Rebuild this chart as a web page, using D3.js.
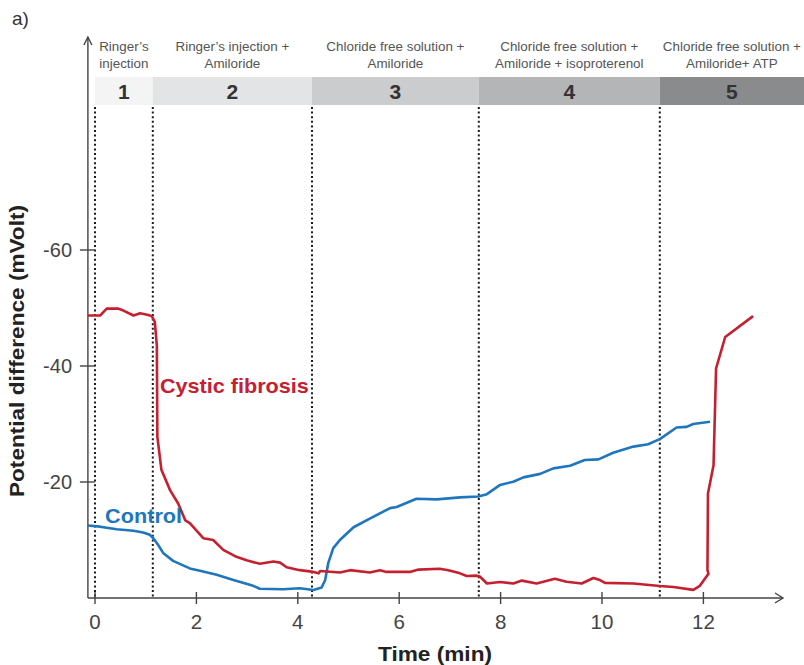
<!DOCTYPE html>
<html><head><meta charset="utf-8">
<script src="https://cdn.jsdelivr.net/npm/d3@7/dist/d3.min.js"></script>
<style>
html,body{margin:0;padding:0;background:#fff;}
svg{display:block;}
</style>
</head><body>
<svg id="chart" width="804" height="665"></svg>
<script>
// ---------------- data ----------------
const phaseStarts = [0, 1.14, 4.28, 7.57, 11.14];
const phaseEnd = 14;
const phaseNumbers = ["1", "2", "3", "4", "5"];
const phaseLabelLine1 = ["Ringer\u2019s", "Ringer\u2019s injection +", "Chloride free solution +", "Chloride free solution +", "Chloride free solution +"];
const phaseLabelLine2 = ["injection", "Amiloride", "Amiloride", "Amiloride + isoproterenol", "Amiloride+ ATP"];

const xTicks = [0, 2, 4, 6, 8, 10, 12];
const yTicks = [-20, -40, -60];

const cfTime = [-0.14, 0.10, 0.23, 0.45, 0.55, 0.76, 0.89, 1.05, 1.12, 1.18, 1.22, 1.23, 1.31, 1.48, 1.64, 1.78, 1.87, 2.14, 2.33, 2.53, 2.79, 2.99, 3.25, 3.52, 3.65, 3.78, 4.04, 4.31, 4.41, 4.44, 4.83, 5.03, 5.42, 5.62, 5.75, 6.21, 6.38, 6.80, 6.97, 7.20, 7.33, 7.53, 7.59, 7.73, 7.99, 8.25, 8.42, 8.71, 9.07, 9.30, 9.60, 9.83, 9.96, 10.06, 10.62, 11.14, 11.41, 11.80, 11.93, 12.10, 12.08, 12.09, 12.20, 12.25, 12.43, 12.98];
const cfValue = [-48.7, -48.7, -49.9, -49.9, -49.6, -48.7, -49.1, -48.8, -48.6, -47.6, -43.5, -27.8, -22.1, -18.6, -16.3, -13.4, -12.9, -10.3, -10.0, -8.3, -7.1, -6.5, -5.9, -6.3, -6.1, -5.3, -4.8, -4.5, -4.25, -4.65, -4.4, -4.8, -4.4, -4.8, -4.5, -4.5, -4.9, -5.05, -4.8, -4.25, -3.8, -3.85, -3.7, -2.5, -2.75, -2.5, -3.0, -2.5, -3.3, -2.8, -2.5, -3.45, -3.1, -2.6, -2.5, -2.07, -1.9, -1.4, -2.1, -4.2, -4.8, -18.0, -22.9, -39.6, -45.0, -48.6];

const ctrlTime = [-0.14, 0.10, 0.43, 0.76, 0.95, 1.08, 1.15, 1.25, 1.35, 1.54, 1.87, 2.07, 2.40, 2.73, 3.12, 3.25, 3.71, 4.04, 4.31, 4.47, 4.54, 4.60, 4.70, 4.83, 5.10, 5.42, 5.82, 5.95, 6.34, 6.74, 7.20, 7.56, 7.73, 7.99, 8.25, 8.45, 8.78, 9.04, 9.37, 9.66, 9.93, 10.22, 10.62, 10.91, 11.14, 11.47, 11.67, 11.80, 12.13];
const ctrlValue = [-12.5, -12.3, -11.85, -11.6, -11.3, -10.9, -10.3, -9.1, -7.7, -6.4, -5.1, -4.7, -4.0, -3.1, -2.1, -1.6, -1.5, -1.67, -1.38, -1.8, -3.1, -6.0, -8.6, -10.0, -12.2, -13.7, -15.5, -15.7, -17.1, -17.0, -17.35, -17.5, -17.9, -19.5, -20.05, -20.8, -21.4, -22.35, -22.8, -23.8, -23.9, -25.05, -26.1, -26.5, -27.4, -29.4, -29.5, -30.0, -30.4];

const seriesNames = ["Cystic fibrosis", "Control"];
const seriesLabelTime = [1.28, 0.2];
const seriesLabelValue = [-35.3, -13.0];

// ---------------- layout / style ----------------
const phaseColors = ["#f4f4f4", "#e3e4e5", "#cbcccd", "#b4b5b7", "#8a8b8d"];
const seriesColors = ["#c5202f", "#1f76bd"];
const axisColor = "#444";
const lightFont = "'Liberation Sans', Arial, sans-serif";
const boldFont = "'Liberation Sans', Arial, sans-serif";

const svg = d3.select("#chart");
const x = d3.scaleLinear().domain([0, 12]).range([95, 703.4]);
const y = d3.scaleLinear().domain([0, -60]).range([598, 250]);
const axisX0 = x(-0.14);
const bandTop = 77, bandBottom = 105;

// panel label
svg.append("text").attr("x", 12).attr("y", 25)
  .attr("font-family", lightFont).attr("font-size", 19).attr("fill", "#333").text("a)");

// phase bands
const phases = phaseStarts.map((s, i) => ({
  s, e: i < phaseStarts.length - 1 ? phaseStarts[i + 1] : phaseEnd,
  num: phaseNumbers[i], l1: phaseLabelLine1[i], l2: phaseLabelLine2[i], color: phaseColors[i]
}));
const pg = svg.append("g");
pg.selectAll("rect").data(phases).join("rect")
  .attr("x", d => x(d.s)).attr("width", d => x(d.e) - x(d.s))
  .attr("y", bandTop).attr("height", bandBottom - bandTop)
  .attr("fill", d => d.color);
const centerOf = d => (x(d.s) + Math.min(x(d.e), 804)) / 2;
pg.selectAll("text.num").data(phases).join("text").attr("class", "num")
  .attr("x", centerOf).attr("y", 99).attr("text-anchor", "middle")
  .attr("font-family", boldFont).attr("font-weight", "bold")
  .attr("font-size", 21).attr("fill", "#333").text(d => d.num);
pg.selectAll("text.l1").data(phases).join("text").attr("class", "l1")
  .attr("x", centerOf).attr("y", 51).attr("text-anchor", "middle")
  .attr("font-family", lightFont).attr("font-size", 13.4).attr("fill", "#555").text(d => d.l1);
pg.selectAll("text.l2").data(phases).join("text").attr("class", "l2")
  .attr("x", centerOf).attr("y", 67.5).attr("text-anchor", "middle")
  .attr("font-family", lightFont).attr("font-size", 13.4).attr("fill", "#555").text(d => d.l2);

// dotted phase separators
svg.append("g").selectAll("line").data(phaseStarts).join("line")
  .attr("x1", d => x(d)).attr("x2", d => x(d))
  .attr("y1", 107).attr("y2", y(0))
  .attr("stroke", "#1a1a1a").attr("stroke-width", 2).attr("stroke-dasharray", "2,2.6");

// axes
const ax = svg.append("g").attr("stroke", axisColor).attr("stroke-width", 1.4).attr("fill", "none");
ax.append("line").attr("x1", axisX0).attr("x2", axisX0).attr("y1", y(0)).attr("y2", 37);
ax.append("path").attr("d", `M${axisX0 - 4},45 L${axisX0},37 L${axisX0 + 4},45`);
ax.append("line").attr("x1", axisX0).attr("x2", 783).attr("y1", y(0)).attr("y2", y(0));
ax.append("path").attr("d", `M775,${y(0) - 5} L783,${y(0)} L775,${y(0) + 5}`);

ax.selectAll("line.xt").data(xTicks).join("line").attr("class", "xt")
  .attr("x1", d => x(d)).attr("x2", d => x(d)).attr("y1", y(0) - 6).attr("y2", y(0) + 6);
ax.selectAll("line.yt").data(yTicks).join("line").attr("class", "yt")
  .attr("x1", axisX0 - 8).attr("x2", axisX0 + 7).attr("y1", d => y(d)).attr("y2", d => y(d));

svg.append("g").selectAll("text").data(xTicks).join("text")
  .attr("x", d => x(d)).attr("y", 629).attr("text-anchor", "middle")
  .attr("font-family", lightFont).attr("font-size", 20.5).attr("fill", "#444").text(d => d);
svg.append("g").selectAll("text").data(yTicks).join("text")
  .attr("x", 72).attr("y", d => y(d) + 7).attr("text-anchor", "end")
  .attr("font-family", lightFont).attr("font-size", 20).attr("fill", "#444").text(d => d);

// axis titles
svg.append("text").attr("x", 435).attr("y", 661).attr("text-anchor", "middle")
  .attr("font-family", boldFont).attr("font-weight", "bold")
  .attr("font-size", 21).attr("textLength", 114).attr("lengthAdjust", "spacingAndGlyphs")
  .attr("fill", "#222").text("Time (min)");
svg.append("text").attr("transform", "translate(24,351) rotate(-90)").attr("text-anchor", "middle")
  .attr("font-family", boldFont).attr("font-weight", "bold")
  .attr("font-size", 21).attr("textLength", 292).attr("lengthAdjust", "spacingAndGlyphs")
  .attr("fill", "#222").text("Potential difference (mVolt)");

// series
const line = d3.line().x(d => x(d[0])).y(d => y(d[1]));
const cf = cfTime.map((t, i) => [t, cfValue[i]]);
const ctrl = ctrlTime.map((t, i) => [t, ctrlValue[i]]);
svg.append("path").datum(ctrl).attr("d", line).attr("fill", "none")
  .attr("stroke", seriesColors[1]).attr("stroke-width", 2.6).attr("stroke-linejoin", "round");
svg.append("path").datum(cf).attr("d", line).attr("fill", "none")
  .attr("stroke", seriesColors[0]).attr("stroke-width", 2.6).attr("stroke-linejoin", "round");

const labelWidths = [149, 77];
svg.append("g").selectAll("text").data(seriesNames).join("text")
  .attr("x", (d, i) => x(seriesLabelTime[i])).attr("y", (d, i) => y(seriesLabelValue[i]))
  .attr("font-family", boldFont).attr("font-weight", "bold")
  .attr("font-size", 21).attr("textLength", (d, i) => labelWidths[i]).attr("lengthAdjust", "spacingAndGlyphs")
  .attr("fill", (d, i) => seriesColors[i]).text(d => d);
</script>
</body></html>
